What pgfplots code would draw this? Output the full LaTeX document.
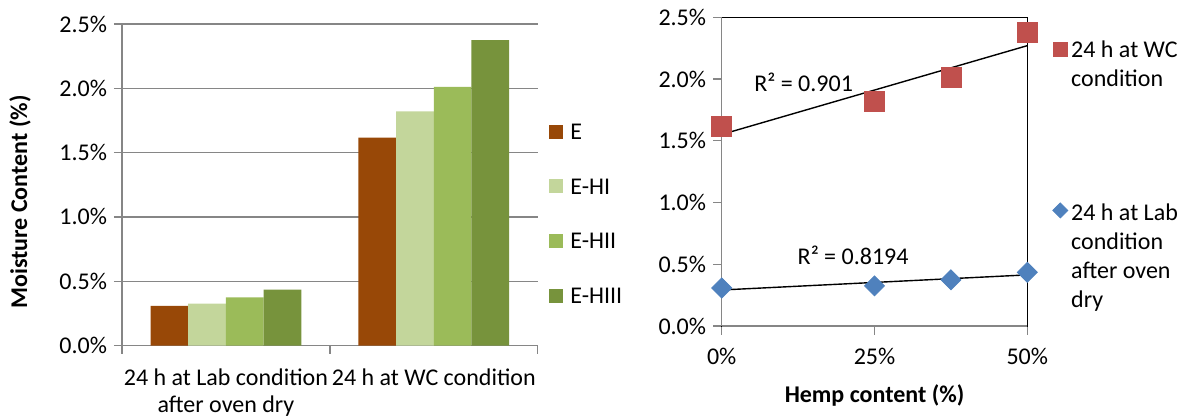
\documentclass[border=0pt]{standalone}
\usepackage{fontspec}
\setmainfont{Carlito}
\usepackage{pgfplots}
\usepackage{pgfplotstable}
\pgfplotsset{compat=1.18}

\definecolor{cE}{HTML}{984807}
\definecolor{cHI}{HTML}{C3D69B}
\definecolor{cHII}{HTML}{9BBB59}
\definecolor{cHIII}{HTML}{77933C}
\definecolor{axgray}{HTML}{868686}
\definecolor{wcred}{HTML}{C0504D}
\definecolor{labblue}{HTML}{4F81BD}

% moisture content (%) against hemp content (%)
\pgfplotstableread{
hemp wc    lab
0    1.616 0.308
25   1.821 0.325
37.5 2.011 0.374
50   2.375 0.435
}\moisture

\pgfplotsset{
  /pgf/number format/assume math mode=true,
  swatch/.style={legend image code/.code={\fill (0pt,-3.5pt) rectangle (7pt,3.5pt);}},
}

\begin{document}
\begin{tikzpicture}[font=\fontsize{12}{13.65}\selectfont]
\useasboundingbox (0,0) rectangle (593.5pt,209pt);

% ---- bar chart by exposure condition ----
\begin{axis}[
  at={(61pt,36.25pt)}, anchor=south west,
  scale only axis, width=207.85pt, height=160.75pt,
  xmin=-0.5, xmax=1.5, ymin=0, ymax=2.5,
  ybar=0pt, bar width=18.85pt,
  axis x line=bottom, axis y line=left,
  axis line style={draw=axgray, line width=0.65pt, -},
  tick align=outside,
  ytick={0,0.5,1,1.5,2,2.5},
  yticklabel={\pgfmathprintnumber[fixed,fixed zerofill,precision=1]{\tick}\%},
  ymajorgrids, major grid style={draw=axgray, line width=0.65pt},
  tick style={draw=axgray, line width=0.65pt},
  major tick length=4pt,
  xtick={-0.5,0.5,1.5}, xticklabels={},
  extra x ticks={0,1},
  extra x tick labels={{24 h at Lab condition\\after oven dry},{24 h at WC condition}},
  extra x tick style={major tick length=0pt},
  xticklabel style={align=center, anchor=north, yshift=-8pt},
  ylabel={\bfseries Moisture Content (\%)},
  ylabel style={at={(axis description cs:-0.2454,0.446)}, anchor=center},
  legend style={at={(axis description cs:1.0272,0.700)}, anchor=north west,
    draw=none, fill=none, inner sep=0pt,
    nodes={inner sep=0pt, text height=9.3pt, text depth=1.6pt},
    row sep=16.45pt,
    /tikz/every odd column/.append style={column sep=3.5pt}},
  legend cell align=left,
]
\addplot[fill=cE, draw=none, swatch] coordinates {(0,0.308) (1,1.616)};
\addplot[fill=cHI, draw=none, swatch] coordinates {(0,0.325) (1,1.821)};
\addplot[fill=cHII, draw=none, swatch] coordinates {(0,0.374) (1,2.011)};
\addplot[fill=cHIII, draw=none, swatch] coordinates {(0,0.435) (1,2.375)};
\legend{E,E-HI,E-HII,E-HIII}
\end{axis}

% ---- scatter against hemp content with linear trends ----
\begin{axis}[
  at={(360.85pt,46pt)}, anchor=south west,
  scale only axis, width=152.8pt, height=154.35pt,
  xmin=0, xmax=50, ymin=0, ymax=2.5,
  clip=false,
  axis line style={draw=black, line width=0.65pt},
  tick align=outside, tick pos=left,
  xtick={0,25,50},
  xticklabel={\pgfmathprintnumber{\tick}\%},
  xticklabel style={yshift=-3pt},
  ytick={0,0.5,1,1.5,2,2.5},
  yticklabel={\pgfmathprintnumber[fixed,fixed zerofill,precision=1]{\tick}\%},
  tick style={draw=axgray, line width=0.65pt},
  major tick length=4.3pt,
  xlabel={\bfseries Hemp content (\%)},
  xlabel style={at={(axis description cs:0.5,-0.2258)}, anchor=center},
  legend style={at={(axis description cs:1.0808,0.925)}, anchor=north west,
    draw=none, fill=none, inner sep=0pt,
    nodes={inner sep=0pt, align=left, font=\fontsize{12}{14.5}\selectfont},
    row sep=56.5pt,
    /tikz/every odd column/.append style={column sep=1.5pt}},
  legend cell align=left,
]
\draw[axgray, line width=0.65pt] (rel axis cs:0,0) -- (rel axis cs:0,1);
\draw[axgray, line width=0.65pt] (rel axis cs:0,0) -- (rel axis cs:1,0);
\addplot[only marks, mark=square*, mark size=5pt, color=wcred,
  legend image code/.code={\fill[wcred] (-3.575pt,4.2pt) rectangle (3.575pt,11.35pt);}]
  table[x=hemp, y=wc] {\moisture};
\addlegendentry{24 h at WC\\condition}
\addplot[only marks, mark=square*, mark size=3.54pt, mark options={rotate=45}, color=labblue,
  legend image code/.code={\fill[labblue] (0pt,23.2pt) +(-3.75pt,0pt) -- +(0pt,3.75pt) -- +(3.75pt,0pt) -- +(0pt,-3.75pt) -- cycle;}]
  table[x=hemp, y=lab] {\moisture};
\addlegendentry{24 h at Lab\\condition\\after oven\\dry}
\addplot[black, line width=0.7pt, forget plot]
  table[x=hemp, y={create col/linear regression={y=wc}}] {\moisture};
\addplot[black, line width=0.7pt, forget plot]
  table[x=hemp, y={create col/linear regression={y=lab}}] {\moisture};
\node at (axis cs:13.4,1.974) {R² = 0.901};
\node at (axis cs:21.5,0.569) {R² = 0.8194};
\end{axis}
\end{tikzpicture}
\end{document}
